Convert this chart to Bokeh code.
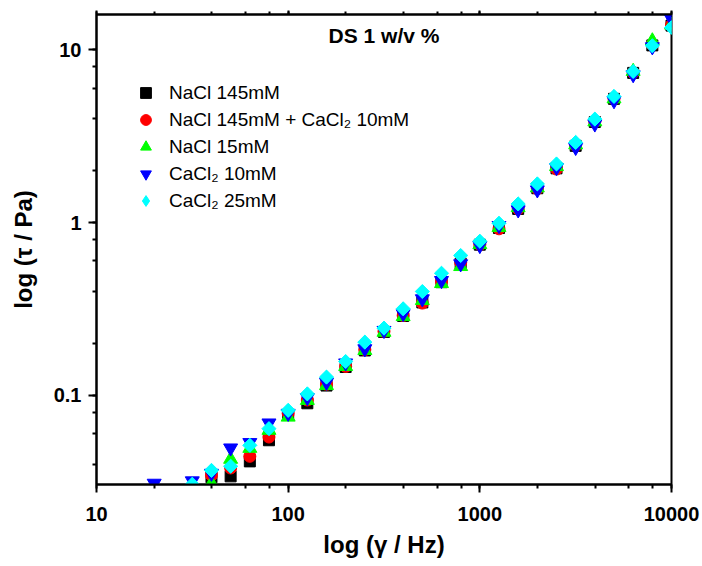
from bokeh.plotting import figure
from bokeh.models import (ColumnDataSource, Legend, LegendItem, LogAxis, LogTicker,
                          CustomJSTickFormatter, Label, Range1d)
from bokeh.embed import file_html
from bokeh.resources import INLINE

# ---------------- data ----------------
x_all = [20, 31.6, 39.8, 50.1, 63.1, 79.4, 100, 125.9, 158.5, 199.5, 251.2, 316.2,
         398.1, 501.2, 631.0, 794.3, 1000, 1258.9, 1584.9, 1995.3, 2511.9, 3162.3,
         3981.1, 5011.9, 6309.6, 7943.3, 10000]

x_nacl145 = x_all[2:]
y_nacl145 = [0.0336, 0.034, 0.0415, 0.055, 0.077, 0.090, 0.114, 0.146, 0.182, 0.233,
             0.288, 0.345, 0.452, 0.58, 0.745, 0.93, 1.2, 1.58, 2.06, 2.78, 3.82, 5.2,
             7.35, 10.6, 13.8]

x_nacl145_ca10 = x_all[2:]
y_nacl145_ca10 = [0.0345, 0.038, 0.0444, 0.0574, 0.0787, 0.094, 0.116, 0.147, 0.184,
                  0.235, 0.29, 0.342, 0.456, 0.587, 0.746, 0.92, 1.2, 1.57, 2.04, 2.79,
                  3.83, 5.2, 7.36, 10.7, 13.9]

x_nacl15 = x_all[2:]
y_nacl15 = [0.031, 0.0427, 0.0494, 0.0628, 0.0749, 0.0936, 0.114, 0.147, 0.182, 0.232,
            0.286, 0.354, 0.444, 0.557, 0.746, 0.936, 1.22, 1.59, 2.11, 2.82, 3.83, 5.2,
            7.5, 11.27, 13.9]

x_ca10 = x_all
y_ca10 = [0.031, 0.032, 0.0354, 0.0496, 0.0533, 0.0692, 0.0787, 0.097, 0.119, 0.154,
          0.186, 0.2375, 0.297, 0.362, 0.462, 0.577, 0.736, 0.961, 1.184, 1.545, 2.08,
          2.72, 3.72, 5.07, 7.17, 10.4, 15.07]

x_ca25 = x_all[1:]
y_ca25 = [0.0306, 0.0368, 0.0389, 0.0514, 0.0642, 0.0819, 0.102, 0.1276, 0.157, 0.2033,
          0.245, 0.317, 0.399, 0.509, 0.645, 0.780, 0.991, 1.282, 1.674, 2.184, 2.91,
          3.97, 5.37, 7.49, 10.55, 13.45]

labels = ["NaCl 145mM", "NaCl 145mM + CaCl\u2082 10mM", "NaCl 15mM",
          "CaCl\u2082 10mM", "CaCl\u2082 25mM"]
title_text = "DS 1 w/v %"
x_label = "log (\u03b3 / Hz)"
y_label = "log (\u03c4 / Pa)"

FONT = "Liberation Sans"

p = figure(width=702, height=566, x_axis_type="log", y_axis_type="log",
           x_range=Range1d(10, 10000), y_range=Range1d(0.0305, 16),
           output_backend="svg", toolbar_location=None,
           min_border_left=96, min_border_right=31, min_border_top=14,
           min_border_bottom=82)
p.background_fill_color = "white"
p.border_fill_color = "white"
p.outline_line_color = "black"
p.outline_line_width = 2
p.xgrid.visible = False
p.ygrid.visible = False

fmt = CustomJSTickFormatter(code="return tick.toString();")
for ax in (p.xaxis[0], p.yaxis[0]):
    ax.ticker = LogTicker(desired_num_ticks=4)
    ax.formatter = fmt
    ax.axis_line_width = 2
    ax.major_tick_line_width = 2
    ax.minor_tick_line_width = 2
    ax.major_tick_in = 0
    ax.major_tick_out = 8
    ax.minor_tick_in = 0
    ax.minor_tick_out = 4
    ax.major_label_text_font = FONT
    ax.major_label_text_font_style = "bold"
    ax.major_label_text_font_size = "20px"
    ax.major_label_text_color = "black"
    ax.axis_label_text_font = FONT
    ax.axis_label_text_font_style = "bold"
    ax.axis_label_text_font_size = "24px"
    ax.axis_label_text_color = "black"

p.xaxis[0].axis_label = x_label
p.yaxis[0].axis_label = y_label
p.xaxis[0].major_label_standoff = 14
p.xaxis[0].axis_label_standoff = 7
p.yaxis[0].major_label_standoff = 7
p.yaxis[0].axis_label_standoff = 14

# top frame edge with short outward ticks, no labels
top = LogAxis(ticker=LogTicker(desired_num_ticks=4),
              formatter=CustomJSTickFormatter(code="return '';"))
top.axis_line_width = 2
top.major_tick_line_width = 2
top.minor_tick_line_width = 2
top.major_tick_in = 0
top.major_tick_out = 4
top.minor_tick_in = 0
top.minor_tick_out = 3
top.major_label_standoff = 0
p.add_layout(top, "above")

series = [
    (x_nacl145, y_nacl145, "square", "#000000", 11, 0),
    (x_nacl145_ca10, y_nacl145_ca10, "circle", "#ff0000", 12, 0),
    (x_nacl15, y_nacl15, "triangle", "#00ff00", 14, 0),
    (x_ca10, y_ca10, "inverted_triangle", "#0000ff", 14, 0),
    (x_ca25, y_ca25, "square", "#00ffff", 10, 0.785398),
]
items = []
for (xs, ys, mk, col, sz, ang), lab in zip(series, labels):
    src = ColumnDataSource(dict(x=xs, y=ys))
    if ang:
        # Bokeh's own diamond for the legend key, drawn under the rotated squares
        proxy = p.scatter("x", "y", source=src, marker="diamond", size=13,
                          fill_color=col, line_color=col)
        p.scatter("x", "y", source=src, marker=mk, size=sz, angle=ang,
                  fill_color=col, line_color=col)
        items.append(LegendItem(label=lab, renderers=[proxy]))
    else:
        r = p.scatter("x", "y", source=src, marker=mk, size=sz,
                      fill_color=col, line_color=col)
        items.append(LegendItem(label=lab, renderers=[r]))

legend = Legend(items=items, location=(36, 270), padding=0, margin=0,
                glyph_width=27, glyph_height=27, label_height=27, spacing=0,
                label_standoff=10, border_line_color=None,
                background_fill_alpha=0,
                label_text_font=FONT, label_text_font_size="19px",
                label_text_color="black")
p.add_layout(legend)

p.add_layout(Label(x=316.2, y=12.06, text=title_text, text_align="center",
                   text_baseline="middle", text_font=FONT, text_font_style="bold",
                   text_font_size="21px", text_color="black"))

open("out.html", "w").write(file_html(p, INLINE))
